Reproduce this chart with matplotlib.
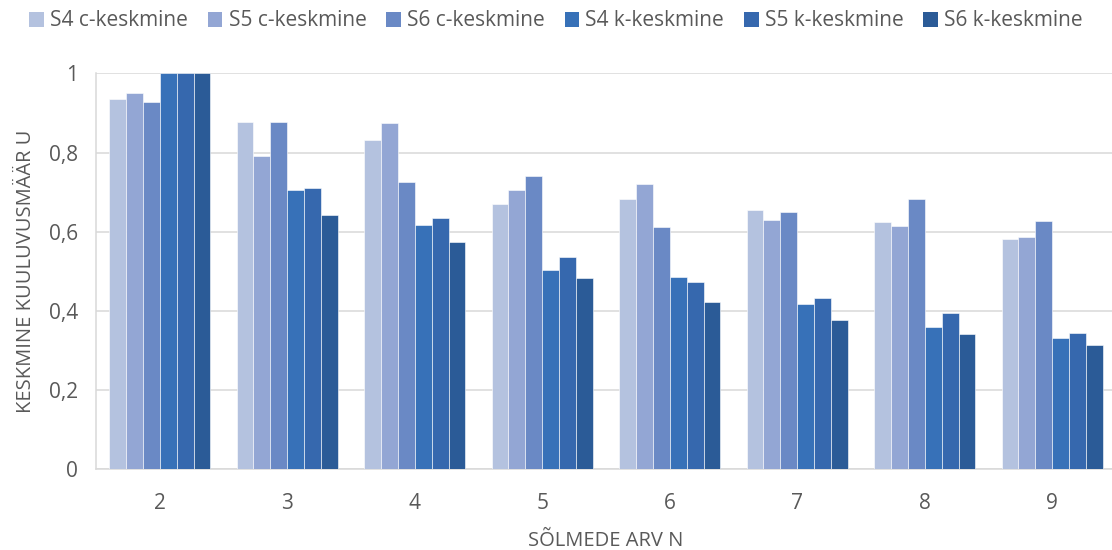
"""
Keskmine kuuluvusmäär U vs sõlmede arv N (grouped bar chart).
"""

import numpy as np
import matplotlib.pyplot as plt
from matplotlib.patches import Patch

# ── Data ──────────────────────────────────────────────────────────────────────

categories = ["2", "3", "4", "5", "6", "7", "8", "9"]

series_names = ["S4 c-keskmine", "S5 c-keskmine", "S6 c-keskmine",
                "S4 k-keskmine", "S5 k-keskmine", "S6 k-keskmine"]

s4_c = [0.936, 0.877, 0.832, 0.670, 0.683, 0.655, 0.624, 0.582]
s5_c = [0.951, 0.791, 0.874, 0.705, 0.720, 0.630, 0.614, 0.586]
s6_c = [0.927, 0.877, 0.726, 0.741, 0.611, 0.651, 0.682, 0.628]
s4_k = [1.000, 0.705, 0.616, 0.503, 0.485, 0.418, 0.360, 0.332]
s5_k = [1.000, 0.710, 0.634, 0.537, 0.472, 0.432, 0.394, 0.343]
s6_k = [1.000, 0.641, 0.575, 0.483, 0.423, 0.376, 0.342, 0.313]

yticks = [0, 0.2, 0.4, 0.6, 0.8, 1.0]
ytick_labels = ["0", "0,2", "0,4", "0,6", "0,8", "1"]

# ── Styling ───────────────────────────────────────────────────────────────────

colors = ["#B4C2DF", "#93A6D4", "#6A89C5", "#3771B8", "#3668AE", "#2B5B97"]
TEXT_COLOR = "#595959"
GRID_COLOR = "#D9D9D9"
FONT = "Open Sans"

plt.rcParams["font.family"] = [FONT, "DejaVu Sans"]

fig = plt.figure(figsize=(11.12, 5.50), dpi=100)
# plot area runs slightly past the right edge of the picture, like the original
ax = fig.add_axes([96 / 1112, 80.7 / 550, 1020 / 1112, 396 / 550])

all_series = [s4_c, s5_c, s6_c, s4_k, s5_k, s6_k]
x = np.arange(len(categories))
n = len(all_series)
bar_w = 0.796 / n

for i, (vals, color, name) in enumerate(zip(all_series, colors, series_names)):
    offset = (i - (n - 1) / 2) * bar_w
    ax.bar(x + offset, vals, width=bar_w, color=color, label=name,
           edgecolor="white", linewidth=0.4, zorder=3)

ax.set_xlim(-0.5, len(categories) - 0.5)
ax.set_ylim(0, 1)
ax.set_xticks(x)
ax.set_xticklabels(categories)
ax.set_yticks(yticks)
ax.set_yticklabels(ytick_labels)

ax.yaxis.grid(True, color=GRID_COLOR, linewidth=1.1, zorder=0)
ax.set_axisbelow(True)
for side in ["top", "right"]:
    ax.spines[side].set_visible(False)
for side in ["left", "bottom"]:
    ax.spines[side].set_color(GRID_COLOR)
    ax.spines[side].set_linewidth(1.1)

ax.tick_params(axis="both", length=0, labelsize=15, colors=TEXT_COLOR)
ax.tick_params(axis="y", pad=13)
ax.tick_params(axis="x", pad=17)

ax.set_ylabel("KESKMINE KUULUVUSMÄÄR U", fontsize=14.5, color=TEXT_COLOR, labelpad=9)
ax.set_xlabel("SÕLMEDE ARV N", fontsize=14.5, color=TEXT_COLOR, labelpad=12)

# legend on top, one row
handles = [Patch(facecolor=c, edgecolor="none") for c in colors]
fig.legend(handles, series_names, loc="upper center", ncol=6,
           bbox_to_anchor=(0.5, 1.015), frameon=False, fontsize=15,
           labelcolor=TEXT_COLOR, handlelength=0.7, handleheight=0.7,
           handletextpad=0.3, columnspacing=0.95)

fig.savefig("out.png", dpi=100)
